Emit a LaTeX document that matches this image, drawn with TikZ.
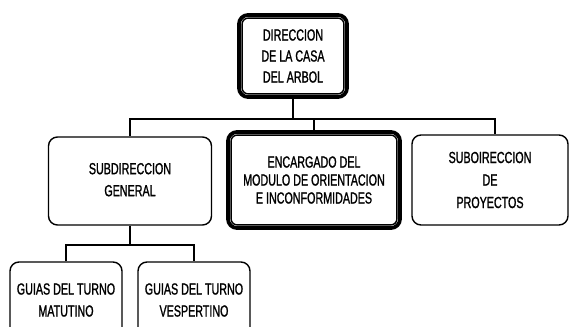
\documentclass[tikz,border=0pt]{standalone}
\usepackage{fontspec}
\setmainfont[FakeStretch=0.67,FakeBold=1.2]{Liberation Sans}
\begin{document}
\begin{tikzpicture}[x=1pt,y=-1pt,
  box/.style={draw, line width=1.4pt, rounded corners=9pt, align=center, inner sep=0pt,
    font=\fontsize{16}{21}\selectfont},
  heavy/.style={box, line width=3.8pt},
  conn/.style={line width=2.4pt}]
\clip (0,0) rectangle (571,327);
\fill[white] (0,0) rectangle (571,327);
% nodes
\node[heavy, minimum width=108pt, minimum height=82pt] (dir) at (293,56)
  {DIRECCION\\DE LA CASA\\DEL ARBOL};
\node[box, minimum width=163pt, minimum height=88pt] (sub) at (130,181)
  {\raisebox{-8pt}{\begin{tabular}{@{}c@{}}SUBDIRECCION\\[1pt]GENERAL\end{tabular}}};
\node[heavy, minimum width=172pt, minimum height=96pt, font=\fontsize{16}{18}\selectfont] (enc) at (314,180)
  {ENCARGADO DEL\\MODULO DE ORIENTACION\\E INCONFORMIDADES};
\node[box, minimum width=156pt, minimum height=90pt, font=\fontsize{16}{22.5}\selectfont] (pro) at (490,180)
  {SUBOIRECCION\\DE\\PROYECTOS};
\node[box, minimum width=112pt, minimum height=76pt, font=\fontsize{16}{22}\selectfont] (mat) at (66,300)
  {GUIAS DEL TURNO\\MATUTINO};
\node[box, minimum width=112pt, minimum height=76pt, font=\fontsize{16}{22}\selectfont] (ves) at (194,300)
  {GUIAS DEL TURNO\\VESPERTINO};
% inner lines of heavy boxes
\draw[line width=1.4pt, rounded corners=6pt]
  ([xshift=5pt,yshift=-5pt]dir.north west) rectangle ([xshift=-5pt,yshift=5pt]dir.south east);
\draw[line width=1.4pt, rounded corners=6pt]
  ([xshift=5pt,yshift=-5pt]enc.north west) rectangle ([xshift=-5pt,yshift=5pt]enc.south east);
% connectors
\coordinate (bus) at (293,119);
\coordinate (bus2) at (130,245);
\coordinate (pc) at ([xshift=5pt]pro.north);
\draw[conn] (dir.south) -- (bus);
\draw[conn] (sub.north) -- (sub.north |- bus) -- (pc |- bus) -- (pc);
\draw[conn] (enc.north |- bus) -- (enc.north);
\draw[conn] (sub.south) -- (bus2);
\draw[conn] (mat.north) -- (mat.north |- bus2) -- (ves.north |- bus2) -- (ves.north);
\end{tikzpicture}
\end{document}
